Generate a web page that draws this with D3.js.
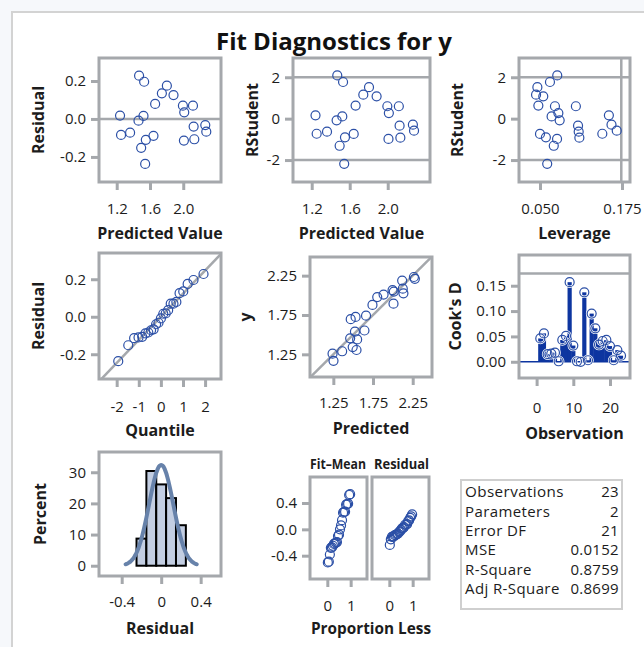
<html>
<head>
<meta charset="utf-8">
<script src="https://d3js.org/d3.v7.min.js"></script>
<style>
 body { margin: 0; background: #f6f8fb; }
 svg { display: block; font-family: "Open Sans", sans-serif; }
</style>
</head>
<body>
<svg id="chart" width="644" height="647"></svg>
<script>
// ---- values ----
// per observation point (same order in every array)
var predicted = [1.469,1.530,1.803,1.743,1.883,1.662,1.996,2.117,2.012,1.240,1.522,1.462,2.125,2.265,2.277,1.252,1.361,1.642,1.550,1.494,2.008,2.133,1.542];
var residual  = [0.228,0.196,0.175,0.135,0.126,0.079,0.070,0.070,0.035,0.018,0.016,-0.009,-0.040,-0.032,-0.067,-0.084,-0.072,-0.089,-0.110,-0.152,-0.114,-0.107,-0.237];
var observed  = [1.697,1.726,1.978,1.878,2.009,1.741,2.066,2.187,2.047,1.258,1.538,1.453,2.085,2.233,2.210,1.168,1.289,1.553,1.440,1.342,1.894,2.026,1.305];
var rstudent  = [2.09,1.77,1.52,1.16,1.08,0.63,0.60,0.60,0.27,0.16,0.11,-0.08,-0.34,-0.29,-0.58,-0.73,-0.63,-0.74,-0.90,-1.31,-0.98,-0.92,-2.18];
var leverage  = [0.0763,0.0652,0.046,0.044,0.055,0.0475,0.0728,0.1047,0.078,0.155,0.0677,0.080,0.108,0.159,0.167,0.145,0.109,0.050,0.059,0.071,0.076,0.110,0.061];

// Cook's D by observation number 1..23
var cooksD = [0.046,0.056,0.015,0.016,0.018,0.001,0.043,0.051,0.157,0.032,0.001,0.000,0.137,0.003,0.095,0.066,0.034,0.041,0.043,0.031,0.003,0.023,0.012];

// normal quantiles for the Q-Q plot (sorted)
var qqQuantile = [-1.929,-1.476,-1.211,-1.012,-0.845,-0.700,-0.569,-0.445,-0.329,-0.217,-0.108,0,0.108,0.217,0.329,0.445,0.569,0.700,0.845,1.012,1.211,1.476,1.929];

// residual-fit spread plot
var fitMinusMean = [-0.503,-0.491,-0.382,-0.281,-0.274,-0.249,-0.221,-0.213,-0.201,-0.193,-0.101,-0.081,0.000,0.060,0.140,0.253,0.265,0.269,0.374,0.382,0.390,0.522,0.534];
var propLess = [0.022,0.065,0.109,0.152,0.196,0.239,0.283,0.326,0.370,0.413,0.457,0.500,0.543,0.587,0.630,0.674,0.717,0.761,0.804,0.848,0.891,0.935,0.978];

// histogram of residuals
var binMid = [-0.2,-0.1,0,0.1,0.2];
var binPct = [8.7,30.4,26.1,21.7,13.0];
var binWidth = 0.1;

// fit statistics
var statLabels = ["Observations","Parameters","Error DF","MSE","R-Square","Adj R-Square"];
var statValues = ["23","2","21","0.0152","0.8759","0.8699"];
var mse = 0.0152;

// ---- styles ----
var markerColor = "#2b4fa6";
var needleColor = "#0d35a0";
var frameColor = "#a5a8ac";
var textColor = "#1c1c1c";

var loc = d3.formatLocale({decimal: ".", thousands: ",", grouping: [3], currency: ["", ""], minus: "-"});
var f1 = loc.format(".1f"), f2 = loc.format(".2f"), f3 = loc.format(".3f"), fd = loc.format("d");

var svg = d3.select("#chart");

// white panel with border
svg.append("rect").attr("x", 12).attr("y", 12).attr("width", 660).attr("height", 660)
   .attr("fill", "white").attr("stroke", "#d3d3d3").attr("stroke-width", 2);

svg.append("text").attr("x", 334).attr("y", 50).attr("text-anchor", "middle")
   .attr("font-size", 24).attr("font-weight", "bold").attr("fill", "#111")
   .text("Fit Diagnostics for y");

var clipId = 0;

// draws axes, titles and reference lines of one cell, returns scales
function panel(o) {
    var x = d3.scaleLinear().domain(o.xd).range([o.x, o.x + o.w]);
    var y = d3.scaleLinear().domain(o.yd).range([o.y + o.h, o.y]);
    var id = "clip" + (clipId++);
    svg.append("clipPath").attr("id", id).append("rect")
       .attr("x", o.x).attr("y", o.y).attr("width", o.w).attr("height", o.h);
    var g = svg.append("g").attr("clip-path", "url(#" + id + ")");

    var ax = svg.append("g").attr("transform", "translate(0," + (o.y + o.h) + ")")
        .call(d3.axisBottom(x).tickValues(o.xt).tickFormat(o.xf).tickSize(8).tickPadding(o.xpad || 13));
    var ay = svg.append("g").attr("transform", "translate(" + o.x + ",0)")
        .call(d3.axisLeft(y).tickValues(o.yt).tickFormat(o.yf).tickSize(8).tickPadding(5));
    [ax, ay].forEach(function(a) {
        a.select(".domain").remove();
        a.selectAll(".tick line").attr("stroke", frameColor).attr("stroke-width", 3);
        a.selectAll("text").attr("font-size", 15).attr("fill", textColor).attr("font-family", "Open Sans");
    });

    (o.yref || []).forEach(function(v) {
        g.append("line").attr("x1", o.x).attr("x2", o.x + o.w).attr("y1", y(v)).attr("y2", y(v))
         .attr("stroke", frameColor).attr("stroke-width", 2.5);
    });
    (o.xref || []).forEach(function(v) {
        g.append("line").attr("y1", o.y).attr("y2", o.y + o.h).attr("x1", x(v)).attr("x2", x(v))
         .attr("stroke", frameColor).attr("stroke-width", 2.5);
    });
    if (o.diag) {
        g.append("line").attr("x1", x(o.xd[0])).attr("y1", y(o.diag * o.xd[0]))
         .attr("x2", x(o.xd[1])).attr("y2", y(o.diag * o.xd[1]))
         .attr("stroke", frameColor).attr("stroke-width", 2.5);
    }

    if (o.xtitle) {
        svg.append("text").attr("x", o.x + o.w / 2).attr("y", o.xty).attr("dy", "0.35em")
           .attr("text-anchor", "middle").attr("font-size", 16).attr("font-weight", "bold")
           .attr("fill", textColor).text(o.xtitle);
    }
    if (o.ytitle) {
        svg.append("text").attr("transform", "translate(" + o.ytx + "," + (o.y + o.h / 2) + ") rotate(-90)")
           .attr("dy", "0.35em").attr("text-anchor", "middle").attr("font-size", 16)
           .attr("font-weight", "bold").attr("fill", textColor).text(o.ytitle);
    }
    return {g: g, x: x, y: y, o: o};
}

function drawFrame(p) {
    svg.append("rect").attr("x", p.o.x).attr("y", p.o.y).attr("width", p.o.w).attr("height", p.o.h)
       .attr("fill", "none").attr("stroke", frameColor).attr("stroke-width", 3);
}

function circles(p, xs, ys) {
    p.g.selectAll(null).data(xs).enter().append("circle")
       .attr("cx", function(d) { return p.x(d); })
       .attr("cy", function(d, i) { return p.y(ys[i]); })
       .attr("r", 4.5).attr("fill", "none").attr("stroke", markerColor).attr("stroke-width", 1.2);
}

// 1. residual by predicted
var p1 = panel({x: 99, y: 58, w: 122, h: 124, xd: [0.987, 2.454], yd: [-0.332, 0.321],
    xt: [1.2, 1.6, 2.0], xf: f1, yt: [-0.2, 0, 0.2], yf: f1, yref: [0],
    xtitle: "Predicted Value", xty: 233, ytitle: "Residual", ytx: 38});
circles(p1, predicted, residual);
drawFrame(p1);

// 2. rstudent by predicted
var p2 = panel({x: 293, y: 58, w: 137, h: 124, xd: [1.003, 2.445], yd: [-3.06, 2.93],
    xt: [1.2, 1.6, 2.0], xf: f1, yt: [-2, 0, 2], yf: fd, yref: [-2, 2],
    xtitle: "Predicted Value", xty: 233, ytitle: "RStudent", ytx: 252});
circles(p2, predicted, rstudent);
drawFrame(p2);

// 3. rstudent by leverage
var p3 = panel({x: 519, y: 58, w: 111, h: 124, xd: [0.018, 0.1872], yd: [-3.06, 2.93],
    xt: [0.05, 0.175], xf: f3, yt: [-2, 0, 2], yf: fd, yref: [-2, 2], xref: [4 / 23],
    xtitle: "Leverage", xty: 233, ytitle: "RStudent", ytx: 457});
circles(p3, leverage, rstudent);
drawFrame(p3);

// 4. Q-Q plot of residuals
var sortedRes = d3.sort(residual);
var p4 = panel({x: 99, y: 253, w: 122, h: 126, xd: [-2.80, 2.72], yd: [-0.332, 0.340],
    xt: [-2, -1, 0, 1, 2], xf: fd, yt: [-0.2, 0, 0.2], yf: f1, diag: Math.sqrt(mse), xpad: 14,
    xtitle: "Quantile", xty: 430, ytitle: "Residual", ytx: 38});
circles(p4, qqQuantile, sortedRes);
drawFrame(p4);

// 5. y by predicted
var p5 = panel({x: 310, y: 257, w: 122, h: 120, xd: [0.956, 2.493], yd: [0.962, 2.487],
    xt: [1.25, 1.75, 2.25], xf: f2, yt: [1.25, 1.75, 2.25], yf: f2, diag: 1, xpad: 12,
    xtitle: "Predicted", xty: 428, ytitle: "y", ytx: 245});
circles(p5, predicted, observed);
drawFrame(p5);

// 6. Cook's D by observation
var obsIndex = d3.range(1, cooksD.length + 1);
var p6 = panel({x: 519, y: 255, w: 111, h: 123, xd: [-4.8, 25.45], yd: [-0.032, 0.2106],
    xt: [0, 10, 20], xf: fd, yt: [0, 0.05, 0.10, 0.15], yf: f2, yref: [4 / 23], xpad: 16,
    xtitle: "Observation", xty: 433, ytitle: "Cook's D", ytx: 455});
p6.g.append("line").attr("x1", 519).attr("x2", 630).attr("y1", p6.y(0)).attr("y2", p6.y(0))
    .attr("stroke", needleColor).attr("stroke-width", 1.5);
p6.g.selectAll(null).data(cooksD).enter().append("line")
    .attr("x1", function(d, i) { return p6.x(obsIndex[i]); })
    .attr("x2", function(d, i) { return p6.x(obsIndex[i]); })
    .attr("y1", p6.y(0)).attr("y2", function(d) { return p6.y(d); })
    .attr("stroke", needleColor).attr("stroke-width", 4.2);
p6.g.selectAll(null).data(cooksD).enter().append("circle")
    .attr("cx", function(d, i) { return p6.x(obsIndex[i]); })
    .attr("cy", function(d) { return p6.y(d); })
    .attr("r", 4.5).attr("fill", "none").attr("stroke", "white").attr("stroke-width", 2.6);
circles(p6, obsIndex, cooksD);
drawFrame(p6);

// 7. histogram of residuals with normal curve
var fmtRes = function(d) { return d === 0 ? "0" : f1(d); };
var p7 = panel({x: 99, y: 452, w: 122, h: 124, xd: [-0.630, 0.606], yd: [-3.3, 36.5],
    xt: [-0.4, 0, 0.4], xf: fmtRes, yt: [0, 10, 20, 30], yf: fd, xpad: 12,
    xtitle: "Residual", xty: 628, ytitle: "Percent", ytx: 40});
p7.g.selectAll(null).data(binPct).enter().append("rect")
    .attr("x", function(d, i) { return p7.x(binMid[i] - binWidth / 2); })
    .attr("width", function(d, i) { return p7.x(binMid[i] + binWidth / 2) - p7.x(binMid[i] - binWidth / 2); })
    .attr("y", function(d) { return p7.y(d); })
    .attr("height", function(d) { return p7.y(0) - p7.y(d); })
    .attr("fill", "#c3cee2").attr("stroke", "black").attr("stroke-width", 2);
var sigma = Math.sqrt(mse);
var curveX = d3.range(-0.36, 0.3601, 0.01);
var normalLine = d3.line()
    .x(function(d) { return p7.x(d); })
    .y(function(d) { return p7.y(100 * binWidth * Math.exp(-d * d / (2 * sigma * sigma)) / (sigma * Math.sqrt(2 * Math.PI))); })
    .curve(d3.curveBasis);
p7.g.append("path").attr("d", normalLine(curveX)).attr("fill", "none")
    .attr("stroke", "#6782aa").attr("stroke-width", 4).attr("stroke-linecap", "round");
drawFrame(p7);

// 8. residual-fit spread plot (two cells)
var p8a = panel({x: 310, y: 477, w: 57, h: 102, xd: [-0.742, 1.70], yd: [-0.754, 0.795],
    xt: [0, 1], xf: fd, yt: [-0.4, 0, 0.4], yf: f1, xpad: 13});
circles(p8a, propLess, fitMinusMean);
drawFrame(p8a);
var p8b = panel({x: 372, y: 477, w: 57, h: 102, xd: [-0.742, 1.70], yd: [-0.754, 0.795],
    xt: [0, 1], xf: fd, yt: [], yf: f1, xpad: 13});
circles(p8b, propLess, sortedRes);
drawFrame(p8b);

// cell headers squeezed to the cell width
function fittedText(x, y, w, size, str) {
    svg.append("text").attr("x", x).attr("y", y).attr("dy", "0.35em")
       .attr("font-size", size).attr("font-weight", "bold").attr("fill", textColor)
       .attr("textLength", w).attr("lengthAdjust", "spacingAndGlyphs").text(str);
}
fittedText(310, 464, 56, 14, "Fit\u2013Mean");
fittedText(374, 464, 55, 14, "Residual");
fittedText(311, 628, 120, 16, "Proportion Less");

// 9. fit statistics table
svg.append("rect").attr("x", 461).attr("y", 480).attr("width", 161).attr("height", 129)
   .attr("fill", "white").attr("stroke", "#cfcfcf").attr("stroke-width", 2);
var rowY = d3.scaleLinear().domain([0, statLabels.length - 1]).range([492, 589]);
svg.append("g").selectAll("text").data(statLabels).enter()
   .append("text").attr("x", 465).attr("y", function(d, i) { return rowY(i); }).attr("dy", "0.35em")
   .attr("font-size", 15).attr("letter-spacing", 0.4).attr("fill", textColor)
   .attr("textLength", function(d) { return d === "Observations" ? 99 : null; })
   .attr("lengthAdjust", "spacingAndGlyphs")
   .text(function(d) { return d; });
svg.append("g").selectAll("text").data(statValues).enter()
   .append("text").attr("x", 619).attr("y", function(d, i) { return rowY(i); }).attr("dy", "0.35em")
   .attr("text-anchor", "end").attr("font-size", 15).attr("letter-spacing", 0.3).attr("fill", textColor)
   .text(function(d) { return d; });
</script>
</body>
</html>
